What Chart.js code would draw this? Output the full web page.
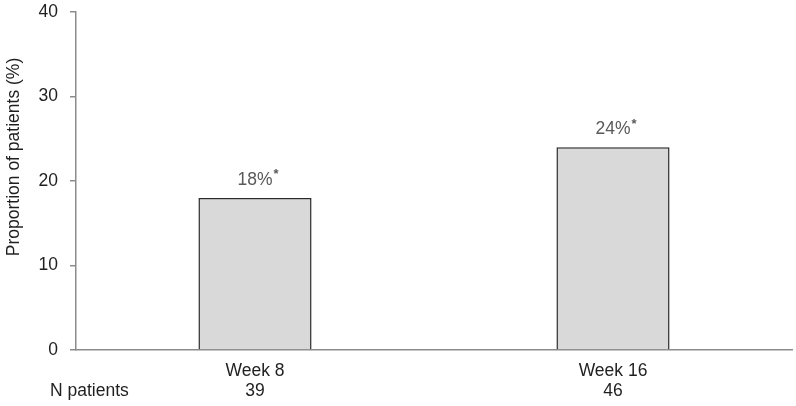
<!DOCTYPE html>
<html>
<head>
<meta charset="utf-8">
<script src="https://cdn.jsdelivr.net/npm/chart.js@4"></script>
<style>
html,body{margin:0;padding:0;background:#fff;}
#wrap{width:796px;height:406px;}
</style>
</head>
<body>
<div id="wrap"><canvas id="c" width="796" height="406"></canvas></div>
<script>
const categories = ["Week 8", "Week 16"];
const nPatients = ["39", "46"];
const proportions = [18, 24];
const valueLabels = ["18%", "24%"];
const yTicks = [0, 10, 20, 30, 40];
const yTitle = "Proportion of patients (%)";
const nLabel = "N patients";

const FONT = "'Liberation Sans', Arial, sans-serif";
const AXIS = "#8c8c8c";
const FS = 17.5;

const overlay = {
  id: 'overlay',
  afterDatasetsDraw(chart) {
    const ctx = chart.ctx;
    const meta = chart.getDatasetMeta(0);
    ctx.save();
    ctx.fillStyle = "#595959";
    ctx.textBaseline = "middle";
    meta.data.forEach((bar, i) => {
      const txt = valueLabels[i];
      ctx.font = FS + "px " + FONT;
      const w = ctx.measureText(txt).width;
      const cx = bar.x;
      const cy = bar.y - 18;
      ctx.textAlign = "center";
      ctx.fillText(txt, cx, cy);
      ctx.font = "bold 13px " + FONT;
      ctx.textAlign = "left";
      ctx.fillText("*", cx + w / 2 + 1, cy - 5);
    });
    // y title
    ctx.font = FS + "px " + FONT;
    ctx.fillStyle = "#1f1f1f";
    ctx.textAlign = "center";
    ctx.textBaseline = "middle";
    ctx.translate(14, 157);
    ctx.rotate(-Math.PI / 2);
    ctx.fillText(yTitle, 0, 0);
    ctx.restore();
    ctx.save();
    ctx.font = FS + "px " + FONT;
    ctx.fillStyle = "#1f1f1f";
    ctx.textAlign = "left";
    ctx.textBaseline = "middle";
    ctx.fillText(nLabel, 50, 391);
    ctx.restore();
  }
};

new Chart(document.getElementById('c'), {
  type: 'bar',
  data: {
    labels: categories.map((c, i) => [c, nPatients[i]]),
    datasets: [{
      data: proportions,
      backgroundColor: "#d9d9d9",
      borderColor: "#2a2a2a",
      borderWidth: 1.5,
      borderSkipped: 'bottom',
      categoryPercentage: 1,
      barPercentage: 0.316
    }]
  },
  options: {
    responsive: false,
    animation: false,
    devicePixelRatio: 1,
    layout: { padding: { left: 0, right: 4, top: 0, bottom: 0 } },
    plugins: { legend: { display: false }, tooltip: { enabled: false } },
    scales: {
      x: {
        grid: { display: false, drawTicks: false },
        border: { display: true, color: AXIS, width: 1.5 },
        ticks: {
          color: "#1f1f1f",
          font: { family: FONT, size: FS, lineHeight: 1.1 },
          padding: 12,
          maxRotation: 0
        },
        afterFit(s) { s.height = 56; s.paddingLeft = 0; s.paddingRight = 0; }
      },
      y: {
        min: 0, max: 40,
        afterBuildTicks(s) { s.ticks = yTicks.map(v => ({ value: v })); },
        grid: { drawOnChartArea: false, drawTicks: true, tickLength: 6, color: AXIS, tickColor: AXIS, lineWidth: 1.5 },
        border: { display: true, color: AXIS, width: 1.5 },
        ticks: {
          color: "#1f1f1f",
          font: { family: FONT, size: FS },
          padding: 12
        },
        afterFit(s) { s.width = 76; s.paddingTop = 12; s.paddingBottom = 0; }
      }
    }
  },
  plugins: [overlay]
});
</script>
</body>
</html>
